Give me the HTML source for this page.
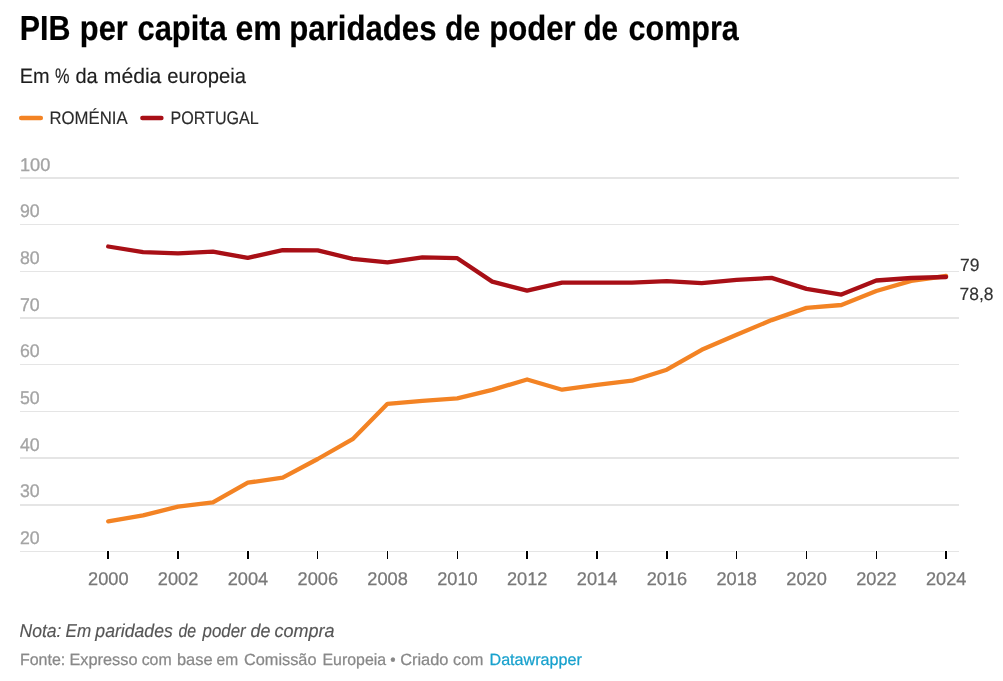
<!DOCTYPE html>
<html lang="pt">
<head>
<meta charset="utf-8">
<title>PIB per capita em paridades de poder de compra</title>
<style>
html,body{margin:0;padding:0;background:#fff;}
body{width:1003px;height:681px;overflow:hidden;font-family:"Liberation Sans", sans-serif;}
svg{display:block;}
svg text{font-family:"Liberation Sans", sans-serif;white-space:pre;text-rendering:geometricPrecision;}
.title{font-size:34.9px;font-weight:700;fill:#000;stroke:#000;stroke-width:0.2px;}
.sub{font-size:21px;fill:#1d1d1d;stroke:#1d1d1d;stroke-width:0.15px;}
.leg{font-size:18.1px;fill:#2a2a2a;stroke:#2a2a2a;stroke-width:0.15px;}
.yl{font-size:18.4px;fill:#a4a4a4;stroke:#a4a4a4;stroke-width:0.3px;}
.xl{font-size:18.4px;fill:#787878;stroke:#787878;stroke-width:0.25px;text-anchor:middle;}
.val{font-size:17.8px;fill:#333;stroke:#333;stroke-width:0.15px;}
.note{font-size:18.7px;font-style:italic;fill:#555;stroke:#555;stroke-width:0.15px;}
.src{font-size:16.3px;fill:#888;stroke:#888;stroke-width:0.25px;}
.src .lnk{fill:#18a1cd;stroke:#18a1cd;}
</style>
</head>
<body>
<svg width="1003" height="681" viewBox="0 0 1003 681">
<rect width="1003" height="681" fill="#ffffff"/>
<text class="title" y="40"><tspan x="19.78" textLength="50.73" lengthAdjust="spacingAndGlyphs">PIB</tspan> <tspan x="79.80" textLength="48.00" lengthAdjust="spacingAndGlyphs">per</tspan> <tspan x="137.50" textLength="89.30" lengthAdjust="spacingAndGlyphs">capita</tspan> <tspan x="235.48" textLength="46.35" lengthAdjust="spacingAndGlyphs">em</tspan> <tspan x="289.29" textLength="147.21" lengthAdjust="spacingAndGlyphs">paridades</tspan> <tspan x="445.12" textLength="35.05" lengthAdjust="spacingAndGlyphs">de</tspan> <tspan x="489.27" textLength="86.43" lengthAdjust="spacingAndGlyphs">poder</tspan> <tspan x="583.50" textLength="34.59" lengthAdjust="spacingAndGlyphs">de</tspan> <tspan x="628.50" textLength="110.30" lengthAdjust="spacingAndGlyphs">compra</tspan></text>
<text class="sub" y="83"><tspan x="19.69" textLength="29.83" lengthAdjust="spacingAndGlyphs">Em</tspan> <tspan x="55.11" textLength="14.51" lengthAdjust="spacingAndGlyphs">%</tspan> <tspan x="75.39" textLength="22.27" lengthAdjust="spacingAndGlyphs">da</tspan> <tspan x="103.84" textLength="57.53" lengthAdjust="spacingAndGlyphs">média</tspan> <tspan x="167.29" textLength="78.63" lengthAdjust="spacingAndGlyphs">europeia</tspan></text>
<line x1="21.2" y1="117.9" x2="40.8" y2="117.9" stroke="#f38324" stroke-width="4.5" stroke-linecap="round"/>
<text class="leg" y="124"><tspan x="49.50" textLength="78.09" lengthAdjust="spacingAndGlyphs">ROMÉNIA</tspan></text>
<line x1="142.4" y1="117.9" x2="161.4" y2="117.9" stroke="#a80f16" stroke-width="4.5" stroke-linecap="round"/>
<text class="leg" y="124"><tspan x="170.50" textLength="88.31" lengthAdjust="spacingAndGlyphs">PORTUGAL</tspan></text>
<g fill="#e5e5e5" shape-rendering="crispEdges">
<rect x="20" y="177" width="939" height="2"/>
<rect x="20" y="224" width="939" height="1"/>
<rect x="20" y="271" width="939" height="1"/>
<rect x="20" y="317" width="939" height="2"/>
<rect x="20" y="364" width="939" height="1"/>
<rect x="20" y="411" width="939" height="1"/>
<rect x="20" y="457" width="939" height="2"/>
<rect x="20" y="504" width="939" height="2"/>
<rect x="20" y="551" width="939" height="1"/>
</g>
<g>
<text class="yl" x="20" y="171" textLength="30.3" lengthAdjust="spacingAndGlyphs">100</text>
<text class="yl" x="20" y="217" textLength="19.7" lengthAdjust="spacingAndGlyphs">90</text>
<text class="yl" x="20" y="264" textLength="19.7" lengthAdjust="spacingAndGlyphs">80</text>
<text class="yl" x="20" y="311" textLength="19.7" lengthAdjust="spacingAndGlyphs">70</text>
<text class="yl" x="20" y="357" textLength="19.7" lengthAdjust="spacingAndGlyphs">60</text>
<text class="yl" x="20" y="404" textLength="19.7" lengthAdjust="spacingAndGlyphs">50</text>
<text class="yl" x="20" y="451" textLength="19.7" lengthAdjust="spacingAndGlyphs">40</text>
<text class="yl" x="20" y="497" textLength="19.7" lengthAdjust="spacingAndGlyphs">30</text>
<text class="yl" x="20" y="544" textLength="19.7" lengthAdjust="spacingAndGlyphs">20</text>
</g>
<g fill="#000" shape-rendering="crispEdges">
<rect x="106" y="551" width="4" height="1" fill="#fff"/><rect x="107" y="551" width="2" height="8"/>
<rect x="176" y="551" width="4" height="1" fill="#fff"/><rect x="177" y="551" width="2" height="8"/>
<rect x="246" y="551" width="4" height="1" fill="#fff"/><rect x="247" y="551" width="2" height="8"/>
<rect x="316" y="551" width="3" height="1" fill="#fff"/><rect x="317" y="551" width="1" height="8"/>
<rect x="386" y="551" width="3" height="1" fill="#fff"/><rect x="387" y="551" width="1" height="8"/>
<rect x="456" y="551" width="3" height="1" fill="#fff"/><rect x="457" y="551" width="1" height="8"/>
<rect x="525" y="551" width="4" height="1" fill="#fff"/><rect x="526" y="551" width="2" height="8"/>
<rect x="595" y="551" width="4" height="1" fill="#fff"/><rect x="596" y="551" width="2" height="8"/>
<rect x="665" y="551" width="4" height="1" fill="#fff"/><rect x="666" y="551" width="2" height="8"/>
<rect x="735" y="551" width="3" height="1" fill="#fff"/><rect x="736" y="551" width="1" height="8"/>
<rect x="805" y="551" width="3" height="1" fill="#fff"/><rect x="806" y="551" width="1" height="8"/>
<rect x="875" y="551" width="3" height="1" fill="#fff"/><rect x="876" y="551" width="1" height="8"/>
<rect x="944" y="551" width="4" height="1" fill="#fff"/><rect x="945" y="551" width="2" height="8"/>
</g>
<g>
<text class="xl" x="108.3" y="585" textLength="40.5" lengthAdjust="spacingAndGlyphs">2000</text>
<text class="xl" x="178.1" y="585" textLength="40.5" lengthAdjust="spacingAndGlyphs">2002</text>
<text class="xl" x="247.9" y="585" textLength="40.5" lengthAdjust="spacingAndGlyphs">2004</text>
<text class="xl" x="317.8" y="585" textLength="40.5" lengthAdjust="spacingAndGlyphs">2006</text>
<text class="xl" x="387.6" y="585" textLength="40.5" lengthAdjust="spacingAndGlyphs">2008</text>
<text class="xl" x="457.4" y="585" textLength="40.5" lengthAdjust="spacingAndGlyphs">2010</text>
<text class="xl" x="527.2" y="585" textLength="40.5" lengthAdjust="spacingAndGlyphs">2012</text>
<text class="xl" x="597.1" y="585" textLength="40.5" lengthAdjust="spacingAndGlyphs">2014</text>
<text class="xl" x="666.9" y="585" textLength="40.5" lengthAdjust="spacingAndGlyphs">2016</text>
<text class="xl" x="736.7" y="585" textLength="40.5" lengthAdjust="spacingAndGlyphs">2018</text>
<text class="xl" x="806.6" y="585" textLength="40.5" lengthAdjust="spacingAndGlyphs">2020</text>
<text class="xl" x="876.4" y="585" textLength="40.5" lengthAdjust="spacingAndGlyphs">2022</text>
<text class="xl" x="946.2" y="585" textLength="40.5" lengthAdjust="spacingAndGlyphs">2024</text>
</g>
<path d="M108.2,521.4 L143.1,515.4 L178.0,506.6 L212.9,502.4 L247.8,482.7 L282.7,477.7 L317.7,459.0 L352.6,439.2 L387.5,403.8 L422.4,400.8 L457.3,398.4 L492.2,389.9 L527.1,379.5 L562.1,389.7 L597.0,384.9 L631.9,380.7 L666.8,369.7 L701.7,349.8 L736.6,334.8 L771.6,320.1 L806.5,307.9 L841.4,305.0 L876.3,291.0 L911.2,280.9 L946.1,276.0" fill="none" stroke="#f38324" stroke-width="4.3" stroke-linejoin="round" stroke-linecap="round"/>
<path d="M108.2,246.5 L143.1,252.1 L178.0,253.3 L212.9,251.7 L247.8,257.8 L282.7,250.1 L317.7,250.3 L352.6,258.9 L387.5,262.4 L422.4,257.4 L457.3,258.2 L492.2,281.6 L527.1,290.6 L562.1,282.7 L597.0,282.7 L631.9,282.7 L666.8,281.2 L701.7,283.2 L736.6,279.9 L771.6,277.9 L806.5,288.9 L841.4,294.6 L876.3,280.5 L911.2,278.0 L946.1,277.0" fill="none" stroke="#a80f16" stroke-width="4.3" stroke-linejoin="round" stroke-linecap="round"/>
<text class="val" y="271"><tspan x="960.02" textLength="19.46" lengthAdjust="spacingAndGlyphs">79</tspan></text>
<text class="val" y="300"><tspan x="959.50" textLength="34.00" lengthAdjust="spacingAndGlyphs">78,8</tspan></text>
<text class="note" y="637"><tspan x="19.50" textLength="42.00" lengthAdjust="spacingAndGlyphs">Nota:</tspan> <tspan x="65.50" textLength="25.59" lengthAdjust="spacingAndGlyphs">Em</tspan> <tspan x="95.37" textLength="77.42" lengthAdjust="spacingAndGlyphs">paridades</tspan> <tspan x="178.41" textLength="17.71" lengthAdjust="spacingAndGlyphs">de</tspan> <tspan x="202.62" textLength="43.11" lengthAdjust="spacingAndGlyphs">poder</tspan> <tspan x="250.62" textLength="19.87" lengthAdjust="spacingAndGlyphs">de</tspan> <tspan x="274.50" textLength="60.00" lengthAdjust="spacingAndGlyphs">compra</tspan></text>
<text class="src" y="665"><tspan x="19.91" textLength="45.31" lengthAdjust="spacingAndGlyphs">Fonte:</tspan> <tspan x="69.47" textLength="68.03" lengthAdjust="spacingAndGlyphs">Expresso</tspan> <tspan x="141.67" textLength="29.94" lengthAdjust="spacingAndGlyphs">com</tspan> <tspan x="176.97" textLength="35.61" lengthAdjust="spacingAndGlyphs">base</tspan> <tspan x="216.57" textLength="21.57" lengthAdjust="spacingAndGlyphs">em</tspan> <tspan x="243.95" textLength="72.55" lengthAdjust="spacingAndGlyphs">Comissão</tspan> <tspan x="322.51" textLength="63.61" lengthAdjust="spacingAndGlyphs">Europeia</tspan> <tspan x="390.15" textLength="5.34" lengthAdjust="spacingAndGlyphs">•</tspan> <tspan x="400.16" textLength="48.34" lengthAdjust="spacingAndGlyphs">Criado</tspan> <tspan x="453.12" textLength="30.37" lengthAdjust="spacingAndGlyphs">com</tspan> <tspan class="lnk" x="489.50" textLength="92.30" lengthAdjust="spacingAndGlyphs">Datawrapper</tspan></text>
</svg>
</body>
</html>
